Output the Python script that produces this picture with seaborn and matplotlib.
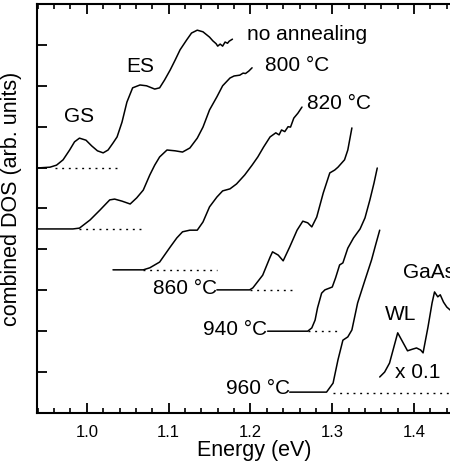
import numpy as np
import pandas as pd
import matplotlib
matplotlib.use("Agg")
import matplotlib.pyplot as plt
import seaborn as sns
from matplotlib.ticker import MultipleLocator

# spectra: energy (eV) and combined DOS (arb. units, offset)
e_none = [0.939, 0.955, 0.963, 0.971, 0.979, 0.985, 0.991, 0.999, 1.006, 1.013, 1.020,
          1.026, 1.032, 1.037, 1.043, 1.049, 1.056, 1.065, 1.073, 1.083, 1.089, 1.095,
          1.102, 1.108, 1.114, 1.122, 1.128, 1.135, 1.142, 1.150, 1.154, 1.158, 1.160,
          1.163, 1.166, 1.169, 1.172, 1.174, 1.178]
dos_none = [5.99, 6.01, 6.06, 6.19, 6.43, 6.63, 6.72, 6.67, 6.53, 6.41, 6.36,
            6.43, 6.60, 6.75, 7.11, 7.60, 7.95, 8.02, 8.00, 7.92, 7.95, 8.14,
            8.39, 8.63, 8.88, 9.12, 9.29, 9.36, 9.32, 9.19, 9.10, 9.03, 8.97,
            9.02, 8.97, 9.07, 9.04, 9.09, 9.14]

e_800 = [0.939, 0.983, 0.991, 1.004, 1.016, 1.028, 1.034, 1.043, 1.053, 1.061, 1.069,
         1.077, 1.083, 1.089, 1.098, 1.108, 1.117, 1.126, 1.135, 1.142, 1.150, 1.159,
         1.166, 1.175, 1.180, 1.187, 1.191, 1.194, 1.198, 1.202]
dos_800 = [4.50, 4.50, 4.52, 4.72, 4.96, 5.21, 5.23, 5.18, 5.11, 5.26, 5.45,
           5.82, 6.06, 6.26, 6.43, 6.41, 6.38, 6.48, 6.72, 6.99, 7.41, 7.73,
           8.00, 8.19, 8.24, 8.26, 8.31, 8.30, 8.36, 8.44]

e_820 = [1.032, 1.069, 1.077, 1.089, 1.102, 1.110, 1.117, 1.126, 1.135, 1.142, 1.150,
         1.159, 1.166, 1.175, 1.183, 1.193, 1.202, 1.209, 1.216, 1.224, 1.231, 1.235,
         1.238, 1.242, 1.246, 1.249, 1.253, 1.258, 1.263]
dos_820 = [3.50, 3.50, 3.55, 3.69, 4.06, 4.28, 4.43, 4.47, 4.47, 4.67, 5.04,
           5.28, 5.43, 5.48, 5.60, 5.82, 6.06, 6.26, 6.50, 6.75, 6.85, 6.80,
           6.92, 6.88, 7.00, 6.99, 7.21, 7.33, 7.48]

e_860 = [1.159, 1.199, 1.203, 1.215, 1.224, 1.227, 1.234, 1.240, 1.248, 1.257, 1.264,
         1.270, 1.275, 1.281, 1.289, 1.297, 1.303, 1.307, 1.315, 1.319, 1.324]
dos_860 = [3.01, 3.01, 3.06, 3.37, 3.81, 3.94, 3.86, 3.72, 4.06, 4.47, 4.69,
           4.65, 4.55, 4.79, 5.38, 5.87, 5.94, 6.01, 6.19, 6.43, 6.97]

e_940 = [1.221, 1.270, 1.275, 1.279, 1.282, 1.287, 1.291, 1.300, 1.304, 1.309, 1.313,
         1.319, 1.326, 1.334, 1.340, 1.346, 1.351, 1.355]
dos_940 = [2.00, 2.00, 2.08, 2.27, 2.57, 2.93, 3.01, 3.08, 3.30, 3.62, 3.67,
           4.03, 4.28, 4.50, 4.77, 5.21, 5.62, 5.99]

e_960 = [1.248, 1.293, 1.301, 1.307, 1.313, 1.319, 1.324, 1.331, 1.340, 1.348, 1.353,
         1.358]
dos_960 = [0.51, 0.51, 0.73, 1.30, 1.78, 1.86, 2.03, 2.69, 3.25, 3.74, 4.11, 4.47]

# wetting layer + GaAs, scaled x 0.1
e_wl = [1.358, 1.364, 1.370, 1.375, 1.380, 1.386, 1.392, 1.398, 1.403, 1.408, 1.411,
        1.417, 1.422, 1.425, 1.429, 1.432, 1.436, 1.440, 1.444, 1.456]
dos_wl = [0.88, 1.00, 1.22, 1.59, 1.96, 1.74, 1.52, 1.56, 1.59, 1.54, 1.47,
          2.10, 2.69, 2.96, 2.84, 2.89, 2.71, 2.59, 2.52, 2.32]

# dotted zero lines: level, start, end
base_levels = [6.0, 4.5, 3.5, 3.0, 2.0, 0.5]
base_start = [0.961, 0.991, 1.069, 1.199, 1.270, 1.301]
base_end = [1.037, 1.071, 1.159, 1.254, 1.307, 1.48]


def style_ticks(ax):
    ax.set_xlim(0.939, 1.4707)
    ax.set_ylim(0, 10)
    ax.xaxis.set_major_locator(MultipleLocator(0.1))
    ax.xaxis.set_minor_locator(MultipleLocator(0.02))
    ax.set_yticks(np.arange(1, 10))
    ax.set_yticklabels([])
    ax.xaxis.set_ticks_position("both")
    ax.tick_params(axis="x", which="major", direction="in", length=7, width=1.3,
                   top=True, bottom=True, labelsize=12, pad=9, color="black")
    ax.tick_params(axis="x", which="minor", direction="in", length=3.6, width=1.2,
                   top=True, bottom=True, color="black")
    ax.tick_params(axis="y", which="major", direction="in", length=7, width=1.3,
                   left=True, right=False, color="black")


sns.set_style("ticks", {"axes.edgecolor": "black", "text.color": "black",
                        "axes.labelcolor": "black", "xtick.color": "black",
                        "ytick.color": "black", "xtick.direction": "in",
                        "ytick.direction": "in", "xtick.top": True})
plt.rcParams['font.family'] = ['Liberation Sans', 'DejaVu Sans']

fig = plt.figure(figsize=(4.5, 4.7), dpi=100)
ax = fig.add_axes([0.082, 0.1213, 0.9667, 0.8702])
style_ticks(ax)

curves = {"none": (e_none, dos_none), "800": (e_800, dos_800), "820": (e_820, dos_820),
          "860": (e_860, dos_860), "940": (e_940, dos_940), "960": (e_960, dos_960),
          "wl": (e_wl, dos_wl)}
df = pd.concat([pd.DataFrame({"energy": e, "dos": d, "curve": k})
                for k, (e, d) in curves.items()], ignore_index=True)
sns.lineplot(data=df, x="energy", y="dos", units="curve", sort=False, estimator=None,
             color="black", lw=1.1, ax=ax)

ax.hlines(base_levels, base_start, base_end, colors="black", lw=1.0,
          linestyles=(0, (1.4, 3.4)))

fs = 15
ax.text(0.991, 7.26, "GS", fontsize=fs, ha="center", va="center")
ax.text(1.065, 8.46, "ES", fontsize=fs, ha="center", va="center")
ax.text(1.196, 9.26, "no annealing", fontsize=fs, ha="left", va="center")
ax.text(1.218, 8.49, "800 °C", fontsize=fs, ha="left", va="center")
ax.text(1.269, 7.56, "820 °C", fontsize=fs, ha="left", va="center")
ax.text(1.159, 3.04, "860 °C", fontsize=fs, ha="right", va="center")
ax.text(1.221, 2.04, "940 °C", fontsize=fs, ha="right", va="center")
ax.text(1.248, 0.60, "960 °C", fontsize=fs, ha="right", va="center")
ax.text(1.384, 2.40, "WL", fontsize=fs, ha="center", va="center")
ax.text(1.3765, 0.99, "x 0.1", fontsize=fs, ha="left", va="center")
ax.text(1.386, 3.44, "GaAs", fontsize=fs, ha="left", va="center")

for s in ax.spines.values():
    s.set_linewidth(1.5)

ax.set_xlabel("Energy (eV)", fontsize=15.5, labelpad=0)
ax.set_ylabel("combined DOS (arb. units)", fontsize=15.5)
ax.yaxis.set_label_coords(-0.034, 0.523)
style_ticks(ax)

fig.canvas.draw()
fig.savefig("out.png", dpi=100)
